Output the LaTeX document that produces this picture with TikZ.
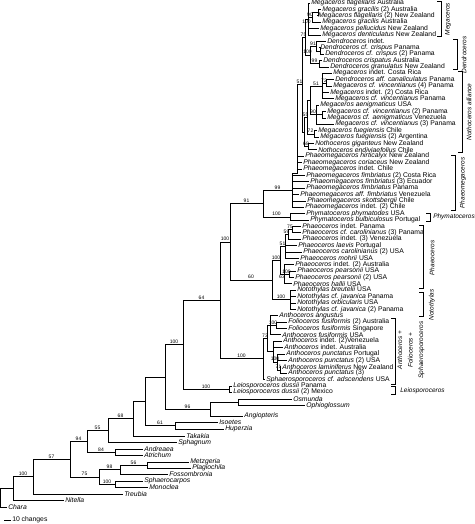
\documentclass[tikz,border=0pt]{standalone}
\usepackage{fontspec}
\setmainfont{Liberation Sans}
\usetikzlibrary{positioning}

% elbow from a node to each of its children
\newcommand\clade[2]{\foreach \ch in {#2} \draw (#1) |- (\ch);}
% elbow with a support value over the horizontal part
\newcommand\branch[3][]{\draw (#2) |- (#3) node[boot, pos=.75] {#1};}

\begin{document}
\begin{tikzpicture}[
    x=1pt, y=-1pt, line width=0.55pt,
    tip/.style={anchor=west, inner sep=1pt, font=\fontsize{6.8}{7}\selectfont},
    boot/.style={anchor=south, inner sep=0.6pt, font=\fontsize{5}{5}\selectfont},
    cladename/.style={inner sep=0pt, font=\fontsize{6.5}{7}\selectfont\itshape},
    bracket/.style={line width=0.5pt}
]
\useasboundingbox (0,0) rectangle (474,524);

% Hornwort terminals
\foreach \i/\x/\sp/\loc in {
  0/310/Megaceros flagellaris/Australia,
  1/321/Megaceros gracilis/(2) Australia,
  2/317/Megaceros flagellaris/(2) New Zealand,
  3/321/Megaceros gracilis/Australia,
  4/319/Megaceros pellucidus/New Zealand,
  5/321/Megaceros denticulatus/New Zealand,
  6/326/Dendroceros/indet.,
  7/319/Dendroceros cf. crispus/Panama,
  8/324/Dendroceros cf. crispus/(2) Panama,
  9/322/Dendroceros crispatus/Australia,
  10/329/Dendroceros granulatus/New Zealand,
  11/332/Megaceros/indet. Costa Rica,
  12/334/Dendroceros aff. canaliculatus/Panama,
  13/332/Megaceros cf. vincentianus/(4) Panama,
  14/329/Megaceros/indet. (2) Costa Rica,
  15/334/Megaceros cf. vincentianus/Panama,
  16/319/Megaceros aenigmaticus/USA,
  17/326/Megaceros cf. vincentianus/(2) Panama,
  18/326/Megaceros cf. aenigmaticus/Venezuela,
  19/334/Megaceros cf. vincentianus/(3) Panama,
  20/317/Megaceros fuegiensis/Chile,
  21/319/Megaceros fuegiensis/(2) Argentina,
  22/314/Nothoceros giganteus/New Zealand,
  23/317/Nothoceros endiviaefolius/Chile,
  24/304/Phaeomegaceros hirticalyx/New Zealand,
  25/302/Phaeomegaceros coriaceus/New Zealand,
  26/302/Phaeomegaceros/indet. Chile,
  27/305/Phaeomegaceros fimbriatus/(2) Costa Rica,
  28/309/Phaeomegaceros fimbriatus/(3) Ecuador,
  29/305/Phaeomegaceros fimbriatus/Panama,
  30/299/Phaeomegaceros aff. fimbriatus/Venezuela,
  31/306/Phaeomegaceros skottsbergii/Chile,
  32/304/Phaeomegaceros/indet. (2) Chile,
  33/305/Phymatoceros phymatodes/USA,
  34/309/Phymatoceros bulbiculosus/Portugal,
  35/301/Phaeoceros/indet. Panama,
  36/301/Phaeoceros cf. carolinianus/(3) Panama,
  37/301/Phaeoceros/indet. (3) Venezuela,
  38/297/Phaeoceros laevis/Portugal,
  39/302/Phaeoceros carolinianus/(2) USA,
  40/299/Phaeoceros mohrii/USA,
  41/294/Phaeoceros/indet. (2) Australia,
  42/296/Phaeoceros pearsonii/USA,
  43/294/Phaeoceros pearsonii/(2) USA,
  44/292/Phaeoceros hallii/USA,
  45/296/Notothylas breutelii/USA,
  46/296/Notothylas cf. javanica/Panama,
  47/296/Notothylas orbicularis/USA,
  48/296/Notothylas cf. javanica/(2) Panama,
  49/278/Anthoceros angustus/,
  50/287/Folioceros fusiformis/(2) Australia,
  51/287/Folioceros fusiformis/Singapore,
  52/281/Anthoceros fusiformis/USA,
  53/282/Anthoceros/indet. (2)Venezuela,
  54/283/Anthoceros/indet. Australia,
  55/285/Anthoceros punctatus/Portugal,
  56/287/Anthoceros punctatus/(2) USA,
  57/281/Anthoceros laminiferus/New Zealand,
  58/287/Anthoceros punctatus/(3),
  59/265/Sphaerosporoceros cf. adscendens/USA,
  60/232/Leiosporoceros dussii/Panama,
  61/232/Leiosporoceros dussii/(2) Mexico}
  \node[tip] (t\i) at (\x,{3+6.38*\i}) {\textit{\sp} \loc};

% Outgroup terminals
\foreach \n/\x/\y/\txt in {Osm/292/399/Osmunda, Oph/305/405.5/Ophioglossum,
    Ang/243/416/Angiopteris, Iso/218/422.5/Isoetes, Hup/224/429/Huperzia,
    Tak/185/436/Takakia, Sph/177/442.5/Sphagnum, And/143/449/Andreaea,
    Atr/143/455.5/Atrichum, Met/189/462/Metzgeria, Pla/191/468/Plagiochila,
    Fos/168/474.5/Fossombronia, Sphc/143/481/Sphaerocarpos, Mon/148/487/Monoclea,
    Tre/123/494/Treubia, Nit/64/500.5/Nitella, Cha/7/507/Chara}
  \node[tip] (\n) at (\x,\y) {\textit{\txt}};

% Internal nodes
\foreach \n/\x/\y in {mb/318/12.6, ma/312/17.3, meg/308/19, db/320/50.9, da/316/46.1,
    dc/319/63.6, dend/310/54.9, md/305/37, ne/326/82.9, nc/322/86, nf/322/114.7,
    nd/316/114.7, nb/310/100.4, fue/314/133.8, na/307/117.1, noth/308/146.6,
    nall/304/131.9, mdn/302/84.5, up/297/173.5, den/292/190.5, phym/290/216.8,
    n91/263/203.6, pa2/292/229.5, pa1/288/234.3, pa/285/246.2, pb1/289/274.1,
    pb/284/274.1, phaeo/280/260.2, nt/290/299.6, noto/272/279.9, n100a/230/241.8,
    fol/276/325.1, a2/270/325.1, a5/280/369.8, a4/277/361.8, a3/273/351.5,
    a1/267/338.3, antho/263/358.7, n64/220/300.2, leio/229/389.0, horn/183/344.6,
    osm/238/402.2, fern/210/409, n165/165/376.8, lyco/175/425.7, n145/145/401.3,
    n133/133/418.7, n108/108/430.6, moss/115/452.2, n87/87/441.4, liv3/147/465,
    liv1/120/469.7, liv2/115/484, liv/99/476.9, n70/70/459.1, n33/33/476.6,
    n13/13/488.5, root/0.5/497.8}
  \coordinate (\n) at (\x,\y);

% Megaceros and Dendroceros
\clade{mb}{t1.west,t2.west}
\clade{ma}{mb,t3.west}
\clade{meg}{t0.west,t4.west,t5.west}
\branch[90]{meg}{ma}
\clade{db}{t7.west,t8.west}
\clade{da}{t6.west,db}
\clade{dc}{t9.west,t10.west}
\branch[91]{dend}{da}
\branch[99]{dend}{dc}
\draw (md) |- (meg) node[boot, pos=.75, anchor=north] {100};
\branch[100]{md}{dend}
\branch[75]{mdn}{md}

% Nothoceros alliance
\clade{ne}{t12.west,t13.west}
\clade{nc}{t11.west,t14.west,t15.west}
\branch[72]{nc}{ne}
\clade{nf}{t17.west,t18.west}
\clade{nd}{t16.west,nf,t19.west}
\branch[51]{nb}{nc}
\branch[90]{nb}{nd}
\clade{fue}{t20.west,t21.west}
\clade{na}{nb}
\branch[72]{na}{fue}
\clade{noth}{t22.west,t23.west}
\branch[55]{nall}{na}
\branch[68]{nall}{noth}
\clade{mdn}{nall}

% Phaeomegaceros and Phymatoceros
\branch[51]{up}{mdn}
\clade{up}{t24.west,t25.west,t26.west}
\clade{den}{up,t27.west,t28.west,t29.west,t30.west,t31.west,t32.west}
\clade{phym}{t33.west,t34.west}
\branch[99]{n91}{den}
\branch[100]{n91}{phym}

% Phaeoceros and Notothylas
\clade{pa2}{t35.west,t36.west}
\clade{pa1}{t37.west}
\branch[75]{pa1}{pa2}
\clade{pa}{t38.west,t39.west,t40.west}
\branch[59]{pa}{pa1}
\clade{pb1}{t42.west,t43.west}
\clade{pb}{t41.west,t44.west}
\branch[100]{pb}{pb1}
\branch[51]{phaeo}{pa}
\draw (phaeo) |- (pb) node[boot, pos=.75, anchor=north] {63};
\clade{nt}{t45.west,t46.west,t47.west,t48.west}
\branch[100]{noto}{phaeo}
\branch[100]{noto}{nt}
\branch[91]{n100a}{n91}
\branch[60]{n100a}{noto}

% Anthoceros, Folioceros, Sphaerosporoceros, Leiosporoceros
\clade{fol}{t50.west,t51.west}
\clade{a2}{t49.west,t52.west}
\branch[100]{a2}{fol}
\clade{a5}{t57.west,t58.west}
\clade{a4}{t55.west,t56.west}
\branch[71]{a4}{a5}
\clade{a3}{t53.west,t54.west}
\branch[100]{a3}{a4}
\clade{a1}{a2,a3}
\branch[73]{antho}{a1}
\clade{antho}{t59.west}
\branch[100]{n64}{n100a}
\branch[100]{n64}{antho}
\clade{leio}{t60.west,t61.west}
\branch[64]{horn}{n64}
\branch[100]{horn}{leio}

% Outgroups
\clade{osm}{Osm.west,Oph.west}
\clade{fern}{osm,Ang.west}
\branch[100]{n165}{horn}
\branch[96]{n165}{fern}
\clade{lyco}{Iso.west,Hup.west}
\clade{n145}{n165}
\branch[61]{n145}{lyco}
\clade{n133}{n145,Tak.west}
\branch[68]{n108}{n133}
\clade{n108}{Sph.west}
\clade{moss}{And.west,Atr.west}
\branch[55]{n87}{n108}
\branch[84]{n87}{moss}
\clade{liv3}{Met.west,Pla.west}
\clade{liv1}{Fos.west}
\branch[56]{liv1}{liv3}
\clade{liv2}{Sphc.west,Mon.west}
\branch[98]{liv}{liv1}
\branch[100]{liv}{liv2}
\branch[94]{n70}{n87}
\branch[75]{n70}{liv}
\branch[57]{n33}{n70}
\clade{n33}{Tre.west}
\branch[100]{n13}{n33}
\clade{n13}{Nit.west}
\clade{root}{n13,Cha.west}

% Scale bar
\draw (4,520) -- (11,520) node[tip] {10 changes};

% Clade brackets
\draw[bracket] (437,1) -| (441,36) -- ++(-4,0);
\node[cladename, rotate=90] at (448,19) {Megaceros};
\draw[bracket] (453,39) -| (457,69) -- ++(-4,0);
\node[cladename, rotate=90] at (464,55) {Dendroceros};
\draw[bracket] (458,71) -| (462,152) -- ++(-4,0);
\node[cladename, rotate=90] at (469,112) {Nothoceros alliance};
\draw[bracket] (451,155) -| (455,210) -- ++(-4,0);
\node[cladename, rotate=90] at (463,183) {Phaeomegaceros};
\draw[bracket] (426,213) -| (430,221) -- ++(-4,0);
\node[cladename, anchor=west] at (433,217) {Phymatoceros};
\draw[bracket] (419,225) -| (423,288) -- ++(-4,0);
\node[cladename, rotate=90] at (432,258) {Phaeoceros};
\draw[bracket] (419,292) -| (423,316) -- ++(-4,0);
\node[cladename, rotate=90] at (432,305) {Notothylas};
\draw[bracket] (391,318) -| (395,384) -- ++(-4,0);
\node[cladename, rotate=90, align=center] at (411,350)
  {Anthoceros +\\[3.5pt]Folioceros +\\[3.5pt]Sphaerosporoceros};
\draw[bracket] (391,386) -| (395,394) -- ++(-4,0);
\node[cladename, anchor=west] at (400,391) {Leiosporoceros};
\end{tikzpicture}
\end{document}
